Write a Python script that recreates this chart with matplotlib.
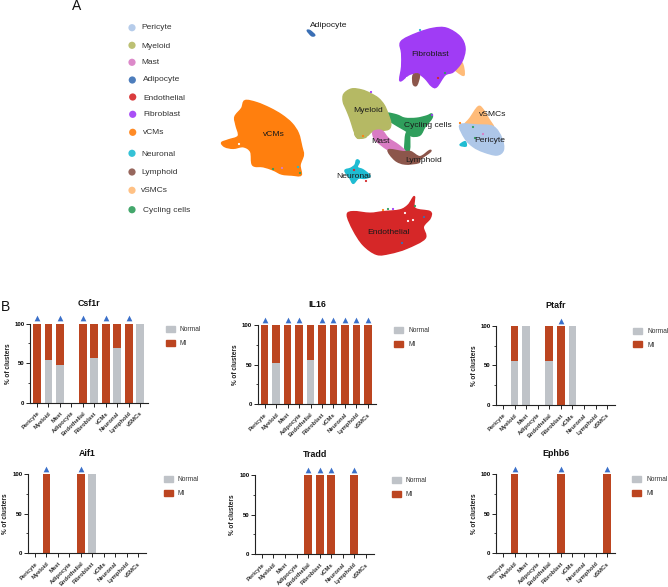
import matplotlib
matplotlib.use("Agg")
import matplotlib.pyplot as plt
from matplotlib.patches import PathPatch, Patch
from matplotlib.path import Path

plt.rcParams['font.family'] = ['Liberation Sans', 'DejaVu Sans']

# ---------- data ----------
cell_types = ['Pericyte', 'Myeloid', 'Mast', 'Adipocyte', 'Endothelial', 'Fibroblast',
              'vCMs', 'Neuronal', 'Lymphoid', 'vSMCs', 'Cycling cells']
cell_colors = ['#aec7e8', '#b5b964', '#d97cc4', '#3a6fb5', '#d62728', '#a03cf5',
               '#ff7f0e', '#1fbcd2', '#8c564b', '#ffbb78', '#2f9e5c']
bar_categories = cell_types[:10]

csf1r_normal = [0, 54, 48, 0, 0, 57, 0, 69, 0, 100]
csf1r_mi = [100, 46, 52, 0, 100, 43, 100, 31, 100, 0]
csf1r_sig = ['Pericyte', 'Mast', 'Endothelial', 'vCMs', 'Lymphoid']
il16_normal = [0, 52, 0, 0, 56, 0, 0, 0, 0, 0]
il16_mi = [100, 48, 100, 100, 44, 100, 100, 100, 100, 100]
il16_sig = ['Pericyte', 'Mast', 'Adipocyte', 'Fibroblast', 'vCMs', 'Neuronal', 'Lymphoid', 'vSMCs']
ptafr_normal = [0, 55, 100, 0, 55, 0, 100, 0, 0, 0]
ptafr_mi = [0, 45, 0, 0, 45, 100, 0, 0, 0, 0]
ptafr_sig = ['Fibroblast']
aif1_normal = [0, 0, 0, 0, 0, 100, 0, 0, 0, 0]
aif1_mi = [0, 100, 0, 0, 100, 0, 0, 0, 0, 0]
aif1_sig = ['Myeloid', 'Endothelial']
tradd_normal = [0, 0, 0, 0, 0, 0, 0, 0, 0, 0]
tradd_mi = [0, 0, 0, 0, 100, 100, 100, 0, 100, 0]
tradd_sig = ['Endothelial', 'Fibroblast', 'vCMs', 'Lymphoid']
ephb6_normal = [0, 0, 0, 0, 0, 0, 0, 0, 0, 0]
ephb6_mi = [0, 100, 0, 0, 0, 100, 0, 0, 0, 100]
ephb6_sig = ['Myeloid', 'Fibroblast', 'vSMCs']

# UMAP cluster outlines
vcms_x = [245, 256.7, 270, 281.7, 291.7, 298.3, 301.7, 303.3, 300, 301, 291.7, 281.7, 273.3, 263.3, 252.7, 250.7, 243.3, 233.3, 225, 221.7, 228.3, 238.3, 236, 235, 241.7]
vcms_y = [100.7, 102.7, 108.3, 115, 123.3, 133.3, 146.7, 155, 165, 175, 175, 174, 170, 166.7, 165, 151.7, 146.7, 148.3, 146.7, 142.7, 140, 136, 125, 116.7, 108.3]
fibro_x = [401, 416.7, 433.3, 446.7, 460, 465, 461.7, 453.3, 445, 436.7, 431.7, 425, 418.3, 413.3, 408.3, 400, 401.7, 401.7]
fibro_y = [41.7, 33.3, 28.3, 28.3, 36.7, 48.3, 61.7, 71.7, 75, 86.7, 86, 78.3, 73.3, 73.3, 75, 80.7, 66.7, 53.3]
myeloid_x = [344, 351.7, 361.7, 370, 378.3, 384, 387.7, 390.7, 388.3, 376.7, 371.7, 366.7, 358.3, 355, 352.7, 350, 346.7, 343.3]
myeloid_y = [94, 89, 90, 93.3, 98.3, 105, 113.3, 123.3, 129.3, 130.7, 131.7, 136, 138.3, 133.3, 126.7, 118.3, 110, 101.7]
cycling_x = [386.7, 396.7, 405, 416.7, 426.7, 431.7, 431.7, 425, 420, 411.7, 407.3, 401.7, 393.3, 388.3]
cycling_y = [113.3, 115, 118.3, 118.3, 116, 114, 118.3, 126.7, 135, 136, 131.7, 128.3, 123.3, 119.3]
cycling_stem_x = [406, 409.3, 409.3, 405]
cycling_stem_y = [134, 134, 150, 150]
mast_x = [373.3, 381.7, 388.3, 398.3, 405, 395, 388.3, 380, 374.3]
mast_y = [131.7, 130.7, 138.3, 145, 151.7, 153.3, 150, 144, 138.3]
lymph_x = [388.3, 403.3, 410.7, 420, 429.3, 430, 420, 418.3, 405, 395]
lymph_y = [150, 151.7, 151.7, 156.7, 150.7, 152, 159.3, 162.7, 164, 160]
vsmc_x = [478.3, 483.3, 488.3, 493.3, 476.7, 465, 470]
vsmc_y = [106.7, 110, 118.3, 128.3, 125, 125, 118.3]
peri_x = [460, 476.7, 493.3, 501.7, 503.3, 496.7, 483.3, 473.3, 465]
peri_y = [125, 125, 126.7, 138.3, 150, 155, 151.7, 146.7, 138.3]
neuro_x = [356.7, 359.3, 357.3, 363.3, 370, 365, 358.3, 353.3, 350, 345, 350.7, 355]
neuro_y = [160, 161.7, 167.3, 170, 176, 178.3, 178.3, 183.3, 178.3, 170.7, 168.3, 165]
neuro_small_x = [460, 465, 466]
neuro_small_y = [145, 141.7, 146]
endo_x = [347.3, 353.3, 370, 383.3, 400, 408.3, 414.3, 415, 430, 430, 423.3, 425, 406.7, 390, 376.7, 363.3, 353.3]
endo_y = [215, 211.7, 213.3, 211.7, 210, 205, 196.7, 208.3, 211.7, 218.3, 226.7, 238.3, 248.3, 253.3, 254.3, 245, 230]
adipo_x = [307.3, 310, 314.7, 311.7]
adipo_y = [30.7, 30.7, 35, 35.7]
vsmc_tip_x = [453.3, 461.7, 464, 457.3]
vsmc_tip_y = [66.7, 62.7, 75, 71.7]
lymph_tip_x = [413.3, 419.3, 416.7, 413.3]
lymph_tip_y = [75, 75, 85, 84]
myeloid_tip_x = [355, 364, 366, 358]
myeloid_tip_y = [133, 132, 137, 138]

speck_x = [354, 366, 388, 383, 393, 415, 424, 402, 405, 408, 413, 282, 298, 300, 273, 363, 371, 420, 438, 445, 473, 475, 483, 460, 432, 428, 239, 407]
speck_y = [170, 181, 209, 210, 209, 206, 217, 243, 213, 221, 220, 168, 167, 173, 169, 136, 92, 30, 78, 73, 127, 138, 134, 123, 115, 117, 144, 78]
speck_c = ['#d62728', '#d62728', '#2f9e5c', '#ff7f0e', '#a03cf5', '#2f9e5c', '#3a6fb5', '#3a6fb5',
           'white', 'white', 'white', '#d97cc4', '#1fbcd2', '#2f9e5c', '#2f9e5c', '#ff7f0e',
           '#a03cf5', '#1fbcd2', '#d62728', '#2f9e5c', '#2f9e5c', '#2f9e5c', '#d97cc4', '#ff7f0e',
           '#a03cf5', '#2f9e5c', 'white', 'white']

label_x = [489.3, 368, 380, 328.3, 388.7, 430.3, 274, 353.3, 423.3, 493, 428.3]
label_y = [140.7, 110.3, 141.3, 25.7, 232.3, 55, 135, 176.3, 160.7, 114, 125.3]

# ---------- layout ----------
W, H = 668, 587
fig = plt.figure(figsize=(W / 100, H / 100), dpi=100)
bg = fig.add_axes([0, 0, 1, 1])
bg.set_xlim(0, W)
bg.set_ylim(H, 0)
bg.axis('off')


def blob(xs, ys, color, z=2):
    """Closed smooth outline passing through the read vertices (cubic segments)."""
    n = len(xs)
    pts = list(zip(xs, ys))
    verts = [pts[0]]
    codes = [Path.MOVETO]
    for i in range(n):
        p0, p1, p2, p3 = pts[i - 1], pts[i], pts[(i + 1) % n], pts[(i + 2) % n]
        c1 = (p1[0] + (p2[0] - p0[0]) / 6, p1[1] + (p2[1] - p0[1]) / 6)
        c2 = (p2[0] - (p3[0] - p1[0]) / 6, p2[1] - (p3[1] - p1[1]) / 6)
        verts += [c1, c2, p2]
        codes += [Path.CURVE4] * 3
    bg.add_patch(PathPatch(Path(verts, codes), fc=color, ec=color, lw=1.1, zorder=z))


c = dict(zip(cell_types, cell_colors))
blob(vcms_x, vcms_y, c['vCMs'])
blob(adipo_x, adipo_y, c['Adipocyte'])
blob(vsmc_tip_x, vsmc_tip_y, c['vSMCs'], 2)
blob(fibro_x, fibro_y, c['Fibroblast'], 3)
blob(lymph_tip_x, lymph_tip_y, c['Lymphoid'], 4)
blob(cycling_x, cycling_y, c['Cycling cells'], 2)
blob(cycling_stem_x, cycling_stem_y, c['Cycling cells'], 2)
blob(myeloid_tip_x, myeloid_tip_y, c['Myeloid'], 3)
blob(myeloid_x, myeloid_y, c['Myeloid'], 3)
blob(mast_x, mast_y, c['Mast'], 3)
blob(lymph_x, lymph_y, c['Lymphoid'], 4)
blob(vsmc_x, vsmc_y, c['vSMCs'], 2)
blob(peri_x, peri_y, c['Pericyte'], 3)
blob(neuro_x, neuro_y, c['Neuronal'])
blob(neuro_small_x, neuro_small_y, c['Neuronal'])
blob(endo_x, endo_y, c['Endothelial'])
bg.scatter(speck_x, speck_y, s=2.5, c=speck_c, lw=0, zorder=5)

for name, x, y in zip(cell_types, label_x, label_y):
    bg.text(x, y, name, ha='center', va='center', fontsize=6.1, color='#1a1a1a', zorder=6)

# left-hand key of cell types
key_dot_x = [132, 132, 132, 132.3, 132.7, 132.7, 132.7, 132, 132, 132, 132]
key_dot_y = [27.7, 45.3, 62.3, 80, 97, 114.3, 132.3, 153.3, 172, 190.3, 209.7]
key_txt_x = [141.7, 141.7, 141.7, 143, 143.3, 143.7, 143.3, 141.7, 141.7, 140.7, 142.7]
key_txt_y = [27.7, 46, 63, 79.3, 98, 115, 132.7, 154, 172.7, 191, 210.3]
bg.scatter(key_dot_x, key_dot_y, s=27, c=cell_colors, lw=0, alpha=0.9)
for name, x, y in zip(cell_types, key_txt_x, key_txt_y):
    bg.text(x, y, name, ha='left', va='center', fontsize=6, color='#333333')

bg.text(77, 6, 'A', ha='center', va='center', fontsize=10, color='#111111')
bg.text(5, 307, 'B', ha='center', va='center', fontsize=10, color='#111111')

NORMAL, MI, TRI = '#bfc3c8', '#bc4520', '#3a6fc9'
panels = [
    ('Csf1r', csf1r_normal, csf1r_mi, csf1r_sig, (30, 148, 323.5, 403), (89, 303), (165.7, 329)),
    ('IL16', il16_normal, il16_mi, il16_sig, (257.7, 375.7, 325, 404.3), (317, 304.7), (394, 330)),
    ('Ptafr', ptafr_normal, ptafr_mi, ptafr_sig, (496, 615, 325.7, 405), (556, 305), (633, 330.7)),
    ('Aif1', aif1_normal, aif1_mi, aif1_sig, (28, 146, 473.7, 553.3), (87, 453), (163.7, 479.3)),
    ('Tradd', tradd_normal, tradd_mi, tradd_sig, (255, 373.7, 475, 554.3), (314.7, 454.7), (391.7, 480)),
    ('Ephb6', ephb6_normal, ephb6_mi, ephb6_sig, (496, 615, 473.7, 553.3), (555.7, 453.5), (632, 479.3)),
]

for title, normal, mi, sig, (l, r, t, b), (tx, ty), (lx, ly) in panels:
    ax = fig.add_axes([l / W, 1 - b / H, (r - l) / W, (b - t) / H])
    ax.patch.set_alpha(0)
    pos = list(range(len(bar_categories)))
    ax.bar(pos, normal, width=0.67, color=NORMAL, lw=0)
    ax.bar(pos, mi, width=0.67, bottom=normal, color=MI, lw=0)
    sx = [bar_categories.index(s) for s in sig]
    ax.scatter(sx, [106.5] * len(sx), marker='^', s=17, color=TRI, lw=0, clip_on=False, zorder=5)
    ax.set_xlim(-0.6, 9.68)
    ax.set_ylim(0, 100)
    ax.set_yticks([0, 50, 100])
    ax.set_yticks([25, 75], minor=True)
    ax.set_xticks(pos)
    ax.set_xticklabels(bar_categories, rotation=45, ha='right', va='top', rotation_mode='anchor',
                       fontsize=4.2, fontweight='bold', color='#333333')
    for s in ('top', 'right'):
        ax.spines[s].set_visible(False)
    for s in ('left', 'bottom'):
        ax.spines[s].set_linewidth(0.8)
        ax.spines[s].set_color('#222222')
    ax.tick_params(axis='both', which='major', length=2.6, width=0.7, pad=1.5, color='#222222')
    ax.tick_params(axis='y', which='minor', length=1.6, width=0.6, color='#222222')
    ax.tick_params(axis='x', pad=3)
    for lab in ax.get_yticklabels():
        lab.set_fontsize(4.3)
        lab.set_fontweight('bold')
    ax.set_ylabel('% of clusters', fontsize=4.7, fontweight='bold', color='#222222')
    ax.yaxis.set_label_coords(-18.5 / (r - l), 0.5)
    bg.text(tx, ty, title, ha='center', va='center', fontsize=6.4, fontweight='bold', color='#111111')
    ax.legend(handles=[Patch(color=NORMAL, label='Normal'), Patch(color=MI, label='MI')],
              loc='upper left', bbox_to_anchor=(lx, ly - 3.2), bbox_transform=bg.transData,
              frameon=False, fontsize=4.8, borderpad=0, borderaxespad=0, handlelength=1.42,
              handleheight=1.05, handletextpad=0.7, labelspacing=0.95, labelcolor='#333333')

fig.savefig('out.png', dpi=100)
